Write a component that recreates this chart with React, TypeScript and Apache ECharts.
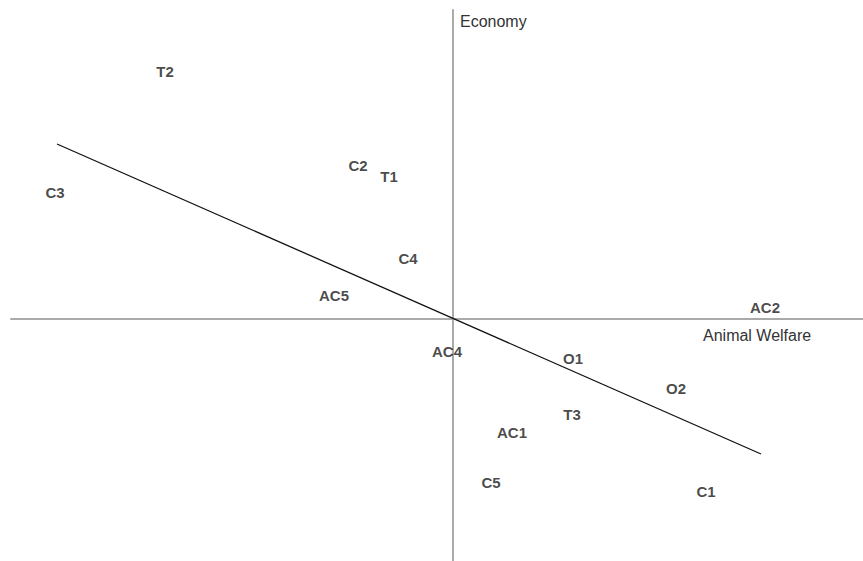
import React, { useEffect, useRef } from "react";
import * as echarts from "echarts";

// Point labels and their coordinates (Animal Welfare on x, Economy on y)
const labels = ["T2", "C3", "C2", "T1", "C4", "AC5", "AC2", "AC4", "O1", "O2", "T3", "AC1", "C5", "C1"];
const xValues = [-2.88, -3.98, -0.95, -0.64, -0.45, -1.19, 3.12, -0.06, 1.2, 2.23, 1.19, 0.59, 0.38, 2.53];
const yValues = [2.47, 1.26, 1.53, 1.42, 0.6, 0.23, 0.11, -0.33, -0.4, -0.7, -0.96, -1.14, -1.64, -1.73];

// Trend line end points
const lineX = [-3.96, 3.08];
const lineY = [1.75, -1.35];

const xAxisName = "Animal Welfare";
const yAxisName = "Economy";

const FONT = "'Liberation Sans', Arial, Helvetica, sans-serif";

export default function App() {
  const ref = useRef<HTMLDivElement>(null);

  useEffect(() => {
    if (!ref.current) return;
    const chart = echarts.init(ref.current, undefined, { renderer: "svg" });
    const points = labels.map((n, i) => ({ name: n, value: [xValues[i], yValues[i]] }));
    const linePts = lineX.map((x, i) => [x, lineY[i]]);
    chart.setOption({
      animation: false,
      backgroundColor: "#ffffff",
      grid: { left: 11, right: 0, top: 10, bottom: 0 },
      xAxis: {
        type: "value",
        min: -4.42,
        max: 4.1,
        axisLine: { show: true, onZero: true, lineStyle: { color: "#aaaaaa", width: 2 } },
        axisTick: { show: false },
        axisLabel: { show: false },
        splitLine: { show: false },
      },
      yAxis: {
        type: "value",
        min: -2.42,
        max: 3.09,
        axisLine: { show: true, onZero: true, lineStyle: { color: "#aaaaaa", width: 2 } },
        axisTick: { show: false },
        axisLabel: { show: false },
        splitLine: { show: false },
      },
      graphic: [
        {
          type: "text",
          left: 460,
          top: 13,
          style: { text: yAxisName, fontSize: 16, fontFamily: FONT, fill: "#333333" },
        },
        {
          type: "text",
          left: 703,
          top: 327,
          style: { text: xAxisName, fontSize: 16, fontFamily: FONT, fill: "#333333" },
        },
      ],
      series: [
        {
          type: "line",
          data: linePts,
          symbol: "none",
          lineStyle: { color: "#111111", width: 1.3 },
          silent: true,
          z: 3,
        },
        {
          type: "scatter",
          data: points,
          symbolSize: 1,
          itemStyle: { color: "rgba(0,0,0,0)" },
          label: {
            show: true,
            position: "inside",
            offset: [0, -1],
            formatter: "{b}",
            fontSize: 15,
            fontWeight: "bold",
            fontFamily: FONT,
            color: "#1a1a1a",
          },
          z: 4,
        },
      ],
    });
    return () => chart.dispose();
  }, []);

  return (
    <div
      ref={ref}
      style={{ position: "absolute", left: 0, top: 0, width: 863, height: 561 }}
    />
  );
}
